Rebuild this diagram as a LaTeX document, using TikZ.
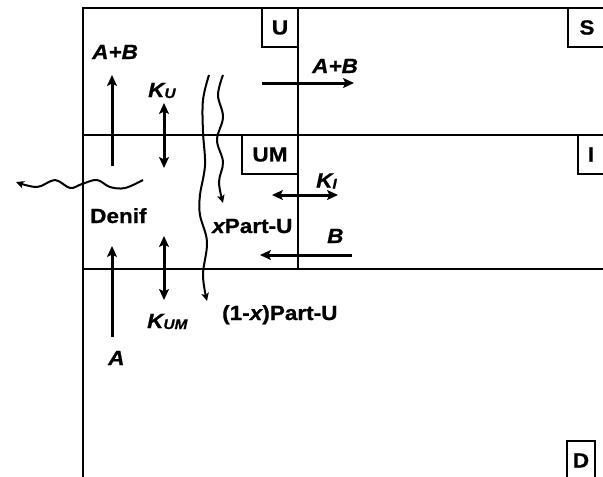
\documentclass[tikz,border=0pt]{standalone}
\usepackage{fontspec}
\setmainfont[FakeStretch=1.1,FakeBold=0.8]{Liberation Sans}
\usetikzlibrary{arrows.meta}

\begin{document}
\begin{tikzpicture}[x=1pt,y=-1pt,
  frame/.style={line width=2.2pt},
  tip/.tip={Stealth[length=11pt,width=10pt,inset=2.5pt]},
  smalltip/.tip={Stealth[length=8pt,width=7.5pt,inset=2pt]},
  flow/.style={line width=3pt,-tip},
  both/.style={line width=3pt,tip-tip},
  wave/.style={line width=2pt,-smalltip},
  lbl/.style={font=\fontsize{20.5}{20.5}\selectfont\bfseries,inner sep=0pt,anchor=base west},
  tag/.style={draw,line width=1.6pt,font=\fontsize{20.5}{20.5}\selectfont\bfseries,
              inner sep=0pt,minimum height=39pt}]
\clip (0,0) rectangle (603,477);
\fill[white] (0,0) rectangle (603,477);

% compartment frame
\draw[frame] (83,477) -- (83,8) -- (610,8);
\draw[frame] (83,135) -- (610,135);
\draw[frame] (83,269) -- (610,269);
\draw[frame] (298,8) -- (298,269);

% compartment tags
\node[tag,minimum width=36pt] (tU)  at (280,27.5) {U};
\node[tag,minimum width=38pt] (tS)  at (587,27.5) {S};
\node[tag,minimum width=56pt] (tUM) at (270,154.5) {UM};
\node[tag,minimum width=26pt] (tI)  at (591,154.5) {I};
\node[tag,minimum width=28pt] (tD)  at (581,460.5) {D};

% vertical transport
\draw[flow] (112,166) -- (112,75);
\draw[both] (164,103) -- (164,168);
\draw[flow] (112,337) -- (112,246);
\draw[both] (164,236) -- (164,300);

% horizontal exchange
\draw[flow] (262,83) -- (354,83);
\draw[both] (272,195) -- (338,195);
\draw[flow] (352,255) -- (260,255);

% particle settling paths
\draw[wave] plot[smooth,tension=0.6] coordinates
  {(209,75) (203,100) (203,132) (205,165) (200,195) (200,215) (207,242) (203,275) (207,301)};
\draw[wave] plot[smooth,tension=0.6] coordinates
  {(223,75) (218,95) (223,117) (217,140) (223,162) (219,182) (223,203)};

% denitrification loss
\draw[wave] plot[smooth,tension=0.6] coordinates
  {(143,180) (125,188) (110,187) (97,180) (82,184) (70,188) (55,180) (37,187) (16,182)};

% labels
\node[lbl] (lAB)   at (92,59)   {\itshape A+B};
\node[lbl] (lKU)   at (148,97)  {\itshape K\raisebox{-1pt}{\fontsize{14}{14}\selectfont U}};
\node[lbl] (lAB2)  at (312,73)  {\itshape A+B};
\node[lbl] (lKI)   at (316,187.5) {\itshape K\raisebox{-1pt}{\fontsize{14}{14}\selectfont I}};
\node[lbl] (lB)    at (327,243) {\itshape B};
\node[lbl] (lDen)  at (90,223)  {Denif};
\node[lbl] (lxP)   at (212,233) {\itshape x\upshape Part-U};
\node[lbl] (lKUM)  at (147,328) {\itshape K\raisebox{-1pt}{\fontsize{14}{14}\selectfont UM}};
\node[lbl] (l1xP)  at (222,320) {(1-\itshape x\upshape )Part-U};
\node[lbl] (lA)    at (108,365) {\itshape A};
\end{tikzpicture}
\end{document}
